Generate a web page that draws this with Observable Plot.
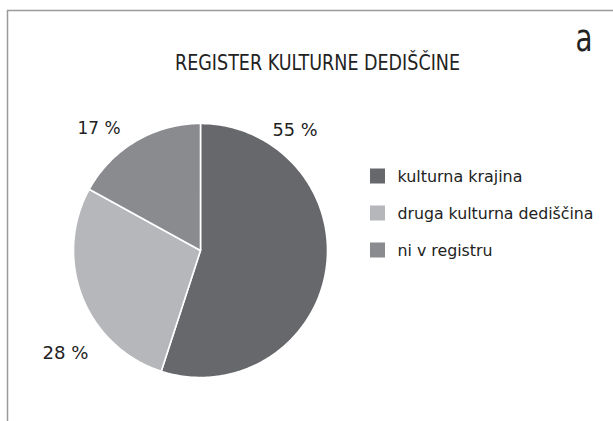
<!DOCTYPE html>
<html>
<head>
<meta charset="utf-8">
<script src="https://cdn.jsdelivr.net/npm/d3@7"></script>
<script src="https://cdn.jsdelivr.net/npm/@observablehq/plot@0.6"></script>
<style>
  html, body { margin: 0; padding: 0; background: #fff; }
</style>
</head>
<body>
<div id="chart"></div>
<script>
// ---- data ----
const categories = ["kulturna krajina", "druga kulturna dediščina", "ni v registru"];
const shares = [55, 28, 17];
const shareLabels = ["55 %", "28 %", "17 %"];
const colors = ["#67686b", "#b6b7ba", "#8a8b8e"];
const title = "REGISTER KULTURNE DEDIŠČINE";
const panelLetter = "a";

// ---- layout (pixels) ----
const W = 613, H = 421;
const cx = 200, cy = 250, R = 127;
const font = "'DejaVu Sans Condensed', 'DejaVu Sans', sans-serif";

// pie geometry from data
const total = d3.sum(shares);
const slices = [];
let acc = 0;
categories.forEach((name, i) => {
  const a0 = acc / total * 2 * Math.PI;
  acc += shares[i];
  const a1 = acc / total * 2 * Math.PI;
  const pts = [{name, x: cx, y: cy}];
  const n = Math.max(2, Math.ceil((a1 - a0) / (Math.PI / 180)));
  for (let k = 0; k <= n; k++) {
    const a = a0 + (a1 - a0) * k / n;
    pts.push({name, x: cx + R * Math.sin(a), y: cy - R * Math.cos(a)});
  }
  slices.push(...pts);
});

// percent label positions (outside slices)
const labelPos = [
  {x: 272, y: 135, w: 45},
  {x: 42, y: 358, w: 46},
  {x: 77, y: 133, w: 43}
];
const labels = shareLabels.map((t, i) => ({text: t, ...labelPos[i]}));

const legendWidths = [125, 196, 95];
const legend = categories.map((name, i) => ({name, y: 176 + i * 37, w: legendWidths[i]}));

const chart = Plot.plot({
  width: W,
  height: H,
  margin: 0,
  x: {domain: [0, W], range: [0, W], axis: null},
  y: {domain: [0, H], range: [0, H], axis: null},
  color: {domain: categories, range: colors},
  marks: [
    // frame lines
    Plot.ruleY([10], {x1: 7, x2: W, stroke: "#9a9a9a", strokeWidth: 1.5}),
    Plot.ruleX([7], {y1: 10, y2: H, stroke: "#9a9a9a", strokeWidth: 1.5}),
    // pie
    Plot.line(slices, {x: "x", y: "y", z: "name", fill: "name", stroke: "white", strokeWidth: 1.6, curve: "linear-closed"}),
    // percent labels
    Plot.text(labels, {x: "x", y: "y", text: "text", textAnchor: "start", lineAnchor: "bottom", fontSize: 18.5, fontFamily: font, fill: "#222"}),
    // title
    Plot.text([title], {x: 317, y: 69, text: d => d, textAnchor: "middle", lineAnchor: "bottom", fontSize: 21.5, fontFamily: font, fill: "#222"}),
    Plot.text([panelLetter], {x: 575, y: 50, text: d => d, textAnchor: "start", lineAnchor: "bottom", fontSize: 37, fontFamily: font, fill: "#222"}),
    // legend
    Plot.rect(legend, {x1: 370, x2: 385, y1: d => d.y - 7.5, y2: d => d.y + 7.5, fill: "name"}),
    Plot.text(legend, {x: 397, y: "y", text: "name", textAnchor: "start", lineAnchor: "middle", fontSize: 16.5, fontFamily: font, fill: "#222"})
  ]
});
document.getElementById("chart").appendChild(chart);

// condense text widths to match the narrow original typeface
const widths = new Map([
  [title, 285],
  [panelLetter, 17],
  ...labels.map(d => [d.text, d.w]),
  ...legend.map(d => [d.name, d.w])
]);
d3.select(chart).selectAll("text").each(function() {
  const t = this.textContent;
  if (widths.has(t)) {
    d3.select(this).attr("textLength", widths.get(t)).attr("lengthAdjust", "spacingAndGlyphs");
  }
});
</script>
</body>
</html>
